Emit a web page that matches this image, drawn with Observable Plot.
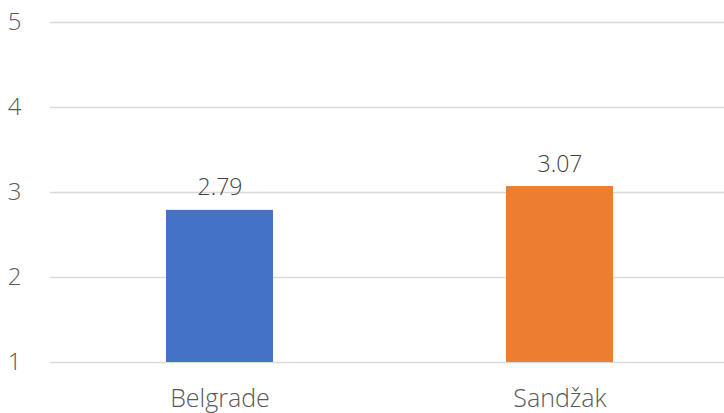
<!DOCTYPE html>
<html><head><meta charset="utf-8">
<script src="https://cdn.jsdelivr.net/npm/d3@7"></script>
<script src="https://cdn.jsdelivr.net/npm/@observablehq/plot@0.6"></script>
<style>body{margin:0;background:#fff}</style>
</head><body><div id="chart"></div>
<script>
const categories = ["Belgrade", "Sandžak"];
const values = [2.79, 3.07];
const colors = ["#4472C4", "#ED7D31"];
const yTicks = [1, 2, 3, 4, 5];

const data = categories.map((c, i) => ({category: c, value: values[i], color: colors[i]}));

const chart = Plot.plot({
  width: 724, height: 413,
  marginLeft: 50, marginRight: 0, marginTop: 22, marginBottom: 51,
  style: {fontFamily: "'Open Sans', sans-serif", fontSize: "22px", color: "#595959", background: "#fff"},
  x: {domain: categories, paddingInner: 0.685, paddingOuter: 0.333, align: 0.511, label: null},
  y: {domain: [1, 5], label: null},
  marks: [
    Plot.ruleY(yTicks, {stroke: "#d9d9d9", strokeWidth: 1.3}),
    Plot.rectY(data, {x: "category", y1: 1, y2: "value", fill: "color"}),
    Plot.text(data, {x: "category", y: "value", text: d => d.value.toFixed(2), lineAnchor: "bottom", dy: -15, fill: "#404040", fontSize: 23, fontWeight: 300}),
    Plot.axisY(yTicks, {tickSize: 0, tickPadding: 29, tickFormat: "d", fontSize: 24, fill: "#595959", fontWeight: 300}),
    Plot.axisX({tickSize: 0, tickPadding: 27, fontSize: 25, fill: "#595959", fontWeight: 300})
  ]
});
document.getElementById("chart").appendChild(chart);
</script>
</body></html>
